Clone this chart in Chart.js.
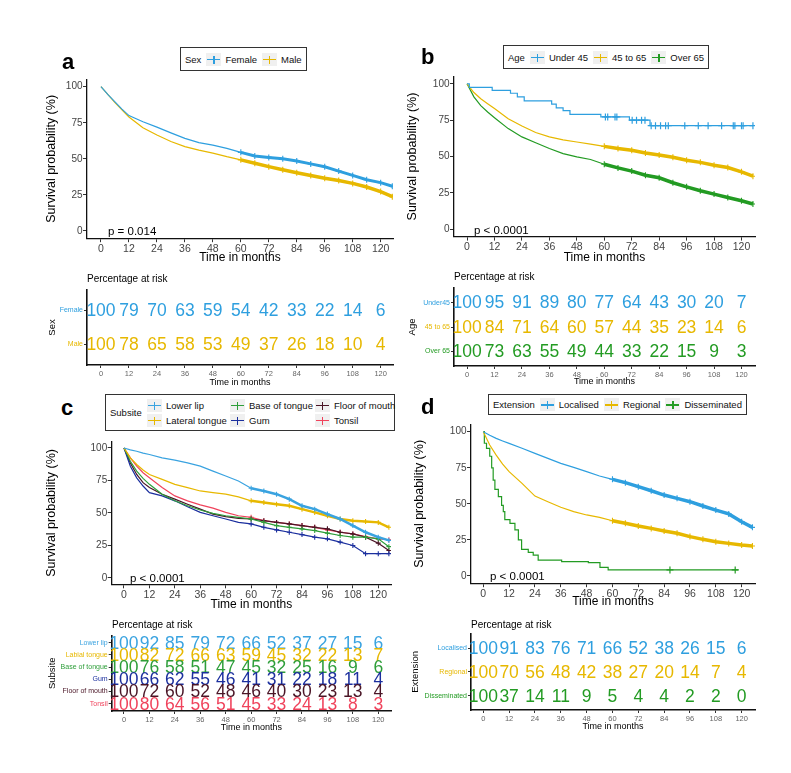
<!DOCTYPE html>
<html><head><meta charset="utf-8">
<script src="https://cdn.jsdelivr.net/npm/chart.js@4/dist/chart.umd.min.js"></script>
<style>
body{margin:0;background:#fff;width:791px;height:773px;position:relative;overflow:hidden;font-family:"Liberation Sans",Arial,sans-serif;}
canvas{position:absolute;}
.lbl{position:absolute;white-space:nowrap;color:#000;transform:translateY(-50%);line-height:1;}
.letter{font-weight:bold;font-size:22px;}
.pval{font-size:11.5px;}
.risktitle{font-size:10px;}
.legend{position:absolute;border:1.5px solid #333;background:#fff;display:flex;align-items:center;font-size:9.5px;padding:0 4px;box-sizing:border-box;white-space:nowrap;color:#111;}
.key{display:block;position:relative;width:15px;height:13px;background:#F0F0F0;margin:0 4px 0 5px;flex:none;}
.key i{position:absolute;display:block;}
.item{display:flex;align-items:center;}
</style></head><body>
<script>
// ---------- shared axes ----------
const xTicks = [0,12,24,36,48,60,72,84,96,108,120];
const yTicks = [0,25,50,75,100];
const grid = [0,3,6,9,12,18,24,30,36,42,48,54,60,66,72,78,84,90,96,102,108,114,120,125];

// ---------- panel a : Sex ----------
const sexNames = ['Female','Male'];
const sexColors = ['#2E9FDF','#E7B800'];
const femaleSurv = [100,94.5,89.5,84.5,80,75.7,72,68,64.2,61.2,59.5,57.3,54.5,52,51,50,48.5,46.5,44.5,41.5,38.5,35.5,33.5,31];
const maleSurv   = [100,94.5,89,84,79,71.5,66.5,62,58.5,56,54,51.5,49.3,47,44.6,42.5,40.4,38.5,36.5,35,33,30.5,27.3,23.8];
const femaleRisk = [100,79,70,63,59,54,42,33,22,14,6];
const maleRisk   = [100,78,65,58,53,49,37,26,18,10,4];

// ---------- panel b : Age ----------
const ageNames = ['Under 45','45 to 65','Over 65'];
const ageRiskLabels = ['Under45','45 to 65','Over 65'];
const ageColors = ['#2E9FDF','#E7B800','#239B23'];
const under45Times = [0,1,11,19,22,25,37,39,42,45,58.5,71,80,125];
const under45Surv  = [100,97.5,95.5,93.5,91,88.2,86,83.5,81.5,79,77.2,75,71.2,71.2];
const under45CensorTimes = [60.5,61.5,64.7,65.5,72.2,74.1,76.3,77.8,80.5,82.4,84.6,86.8,88,95.2,101.1,105.4,111.3,116.4,117.1,120,120.7,125];
const under45CensorSurv  = [77.2,77.2,77.2,77.2,75,75,75,75,71.2,71.2,71.2,71.2,71.2,71.2,71.2,71.2,71.2,71.2,71.2,71.2,71.2,71.2];
const mid4565Surv = [100,94,89.7,86.3,83,76,71,66.5,63.5,61.5,60,58.5,57,55.5,54.3,52.5,51,49.5,47.5,46,44,42.5,39.5,36.5];
const over65Surv  = [100,91,85,80.6,76.7,69.2,63.5,59.5,55.5,52,49.8,48,44.7,42.2,40,37.2,35.4,32,29.2,26.5,24.2,21.9,19.6,17.4];
const under45Risk = [100,95,91,89,80,77,64,43,30,20,7];
const mid4565Risk = [100,84,71,64,60,57,44,35,23,14,6];
const over65Risk  = [100,73,63,55,49,44,33,22,15,9,3];

// ---------- panel c : Subsite ----------
const siteNames = ['Lower lip','Lateral tongue','Base of tongue','Gum','Floor of mouth','Tonsil'];
const siteRiskLabels = ['Lower lip','Labial tongue','Base of tongue','Gum','Floor of mouth','Tonsil'];
const siteColors = ['#3AA3E0','#E7B800','#2E9E3A','#1B2F9E','#4A1526','#F0435C'];
const lowerLipSurv  = [100,98.5,97.5,96,95,92.4,90.6,88.5,86,82.2,78.4,74.6,69,66.9,64.4,60.6,55.5,52.9,49.1,45.3,40.2,35.1,31.3,28.8];
const latTongueSurv = [100,92.4,87.3,83,79.6,75.8,72,69.5,66.9,65.6,64.4,62.3,59.3,58,56.7,55.5,52.9,50.4,47.8,45.3,44,43.3,42.7,38.9];
const baseTongueSurv= [100,89.8,82.2,76.6,72,64.4,59.3,55.5,52.2,49.6,47.8,46.6,45.3,42.7,40.2,38.9,37.7,36.4,34.4,32.6,31.3,31.3,30,24];
const gumSurv       = [100,86,77,70.7,65.6,63.1,59.3,54.7,50.4,47.8,45.3,42.7,41.5,38.9,36.9,35.1,33.3,31.3,30,27.5,24.9,18.6,18.6,18.6];
const floorSurv     = [100,88.5,79.6,73.3,69.5,64.4,60.6,56.7,52.9,49.1,47.1,45.8,45.3,44,42.7,41.5,40.2,38.9,37.7,35.1,33.8,31.3,26.7,21];
const tonsilSurv    = [100,92.4,86,80.9,77.1,69.5,63.1,59.3,56.2,53.7,50.4,47.8,46.6,44,42.7,41.5,40.2,38.9,36.9,35.1,33.8,31.8,30,29.3];
const lowerLipRisk  = [100,92,85,79,72,66,52,37,27,15,6];
const latTongueRisk = [100,82,72,66,63,59,45,32,22,13,7];
const baseTongueRisk= [100,76,58,51,47,45,32,25,16,9,6];
const gumRisk       = [100,66,62,55,46,41,31,22,18,11,4];
const floorRisk     = [100,72,60,52,48,46,40,30,23,13,4];
const tonsilRisk    = [100,80,64,56,51,45,33,24,13,8,3];

// ---------- panel d : Extension ----------
const extNames = ['Localised','Regional','Disseminated'];
const extColors = ['#2E9FDF','#E7B800','#239B23'];
const localSurv    = [100,97.5,95.4,93.6,91.9,88.5,85,81.5,78.1,75.3,72.3,69.3,67,64.7,61.9,59.1,56.1,53.8,51.5,48.5,45.7,43,37.6,33.7];
const regionalSurv = [100,90.8,83.8,77.6,72.3,64.2,55.4,51.5,47.6,44.6,42.3,40.6,38.3,36.5,34.6,33,31.2,29.6,27.3,25.4,23.8,22.6,21.5,20.8];
const dissTimes = [0,0.5,1.5,3,3.9,4.6,5.4,7,8.5,9.3,10,12.4,14.7,16.3,17.8,20.9,23.2,25.5,36.4,48.8,54.2,58,118.5];
const dissSurv  = [100,92,88.5,83,75,66.5,60,55,49,44.6,39,36.5,32,25,18.5,16.4,14.5,11,10,9.2,6,4.2,4.2];
const dissCensorTimes = [86.7,117];
const dissCensorSurv  = [4.2,4.2];
const localRisk    = [100,91,83,76,71,66,52,38,26,15,6];
const regionalRisk = [100,70,56,48,42,38,27,20,14,7,4];
const dissRisk     = [100,37,14,11,9,5,4,4,2,2,0];

// ---------- helpers ----------
Chart.defaults.font.family = '"Liberation Sans", Arial, sans-serif';
Chart.defaults.animation = false;

function canvasAt(l,t,w,h){
  const c=document.createElement('canvas');
  c.width=w;c.height=h;c.style.left=l+'px';c.style.top=t+'px';c.style.width=w+'px';c.style.height=h+'px';
  document.body.appendChild(c);return c;
}
function text(str,left,cy,cls,style){
  const d=document.createElement('div');d.className='lbl '+(cls||'');d.textContent=str;
  d.style.left=left+'px';d.style.top=cy+'px';if(style)Object.assign(d.style,style);
  document.body.appendChild(d);return d;
}
function keyEl(color){
  const k=document.createElement('span');k.className='key';
  const h=document.createElement('i');Object.assign(h.style,{left:'1px',width:'13px',top:'6px',height:'1.5px',backgroundColor:color});
  const v=document.createElement('i');Object.assign(v.style,{left:'6.8px',width:'1.5px',top:'3px',height:'8px',backgroundColor:color});
  k.appendChild(h);k.appendChild(v);return k;
}
function legend(left,top,height,title,names,colors,width){
  const box=document.createElement('div');box.className='legend';
  box.style.left=left+'px';box.style.top=top+'px';box.style.height=height+'px';
  if(width)box.style.width=width+'px';
  const t=document.createElement('span');t.textContent=title;box.appendChild(t);
  names.forEach((n,i)=>{const it=document.createElement('span');it.className='item';it.appendChild(keyEl(colors[i]));
    const s=document.createElement('span');s.textContent=n;it.appendChild(s);box.appendChild(it);});
  document.body.appendChild(box);return box;
}
function legendGrid(left,top,height,width,title,names,colors,colW){
  const box=document.createElement('div');box.className='legend';
  box.style.left=left+'px';box.style.top=top+'px';box.style.height=height+'px';box.style.width=width+'px';
  const t=document.createElement('span');t.textContent=title;t.style.width='32px';t.style.flex='none';box.appendChild(t);
  const g=document.createElement('div');g.style.display='grid';g.style.gridTemplateRows='14px 14px';
  g.style.gridAutoFlow='column';g.style.gridTemplateColumns=colW.map(w=>w+'px').join(' ');g.style.rowGap='1px';
  names.forEach((n,i)=>{const it=document.createElement('span');it.className='item';it.appendChild(keyEl(colors[i]));
    const s=document.createElement('span');s.textContent=n;it.appendChild(s);g.appendChild(it);});
  box.appendChild(g);document.body.appendChild(box);return box;
}

function xAxis(p,risk){
  return {type:'linear',min:p.xmin,max:p.xmax,
    afterBuildTicks:s=>{s.ticks=xTicks.map(v=>({value:v}));},
    afterFit:s=>{s.height=p.xh;},
    grid:{drawOnChartArea:false,drawTicks:true,tickLength:risk?3:4,color:'#333',lineWidth:1},
    border:{display:true,color:'#111',width:risk?1.6:1.3},
    ticks:{font:{size:risk?7.5:10.5},color:risk?'#666':'#444',padding:risk?1:0.5,maxRotation:0,autoSkip:false},
    title:{display:true,text:'Time in months',font:{size:risk?9:12},color:'#000',padding:{top:0,bottom:p.xtpb}}};
}

function mainChart(p){
  const cv=canvasAt(p.l,p.t,p.w,p.h);
  const datasets=[];
  p.series.forEach(s=>{
    datasets.push({type:'line',label:s.name,data:s.times.map((t,j)=>({x:t,y:s.vals[j]})),
      borderColor:s.color,backgroundColor:s.color,borderWidth:1.2,stepped:!!s.stepped,tension:0,fill:false,
      pointStyle:'cross',pointBorderWidth:1.1,pointBorderColor:s.color,
      pointRadius:ctx=>(s.mark&&ctx.raw&&ctx.raw.x>=60)?s.mark:0,pointHoverRadius:0,
      segment:{borderWidth:ctx=>(s.band&&ctx.p0.parsed.x>=58)?s.band:1.2}});
    if(s.censorT){
      datasets.push({type:'scatter',label:s.name+' censored',data:s.censorT.map((t,j)=>({x:t,y:s.censorS[j]})),
        showLine:false,pointStyle:'cross',pointRadius:3.5,pointBorderWidth:1.2,borderColor:s.color,backgroundColor:s.color});
    }
  });
  new Chart(cv,{data:{datasets},options:{responsive:false,animation:false,
    layout:{padding:{left:0,top:p.pt,right:p.pr,bottom:0}},
    plugins:{legend:{display:false},tooltip:{enabled:false}},
    scales:{x:xAxis(p,false),
      y:{type:'linear',min:-5,max:105,afterBuildTicks:s=>{s.ticks=yTicks.map(v=>({value:v}));},afterFit:s=>{s.width=p.yw;},
        grid:{drawOnChartArea:false,drawTicks:true,tickLength:4,color:'#333',lineWidth:1},
        border:{display:true,color:'#111',width:1.3},
        ticks:{font:{size:10},color:'#444',padding:0.5},
        title:{display:true,text:'Survival probability (%)',font:{size:12.5},color:'#000',padding:{top:p.ytpt,bottom:0}}}}}});
}

const riskTextPlugin={id:'riskText',afterDatasetsDraw(chart){
  const ctx=chart.ctx;ctx.save();
  ctx.font='17.5px "Liberation Sans", Arial, sans-serif';ctx.textAlign='center';ctx.textBaseline='middle';
  chart.data.datasets.forEach((ds,i)=>{const meta=chart.getDatasetMeta(i);ctx.fillStyle=ds.borderColor;
    meta.data.forEach((el,j)=>{ctx.fillText(String(ds.data[j].v),el.x,el.y+1);});});
  ctx.restore();}};

function riskChart(p){
  const cv=canvasAt(p.l,p.t,p.w,p.h);
  const n=p.series.length;
  const datasets=p.series.map((s,i)=>({type:'scatter',label:s.name,
    data:xTicks.map((t,j)=>({x:t,y:n-i,v:s.vals[j]})),pointRadius:0,borderColor:s.color,backgroundColor:s.color}));
  const rows=p.series.map((s,i)=>n-i).sort((a,b)=>a-b);
  new Chart(cv,{data:{datasets},plugins:[riskTextPlugin],options:{responsive:false,animation:false,
    layout:{padding:{left:0,top:p.pt,right:p.pr,bottom:0}},
    plugins:{legend:{display:false},tooltip:{enabled:false}},
    scales:{x:xAxis(p,true),
      y:{type:'linear',min:0.4,max:n+0.6,afterBuildTicks:s=>{s.ticks=rows.map(v=>({value:v}));},afterFit:s=>{s.width=p.yw;},
        grid:{drawOnChartArea:false,drawTicks:true,tickLength:3,color:'#333',lineWidth:1},
        border:{display:true,color:'#111',width:1.6},
        ticks:{font:{size:7},padding:1,callback:v=>p.series[n-v].label,color:ctx=>p.series[n-ctx.tick.value].color},
        title:{display:true,text:p.ytitle,font:{size:9.5},color:'#000',padding:{top:p.ytpt,bottom:0}}}}}});
}

// ---------- panel a ----------
mainChart({l:0,t:72,w:400,h:196,pt:7.5,pr:7,yw:87,xh:29.8,xmin:-6,xmax:125.3,ytpt:44.5,xtpb:2.8,
  series:[{name:sexNames[0],color:sexColors[0],times:grid,vals:femaleSurv,band:3,mark:3},
          {name:sexNames[1],color:sexColors[1],times:grid,vals:maleSurv,band:3.5,mark:3}]});
riskChart({l:0,t:270,w:400,h:119,pt:20,pr:7,yw:87,xh:24,xmin:-6,xmax:125.3,ytpt:46.6,xtpb:0.6,ytitle:'Sex',
  series:[{label:sexNames[0],color:sexColors[0],vals:femaleRisk},{label:sexNames[1],color:sexColors[1],vals:maleRisk}]});
text('a',62,62,'letter');
text('p = 0.014',108,232,'pval');
text('Percentage at risk',87,279,'risktitle');
legend(180,47,24,'Sex',sexNames,sexColors);

// ---------- panel b ----------
mainChart({l:395,t:70,w:396,h:198,pt:6,pr:36,yw:59,xh:31.4,xmin:-5.7,xmax:125.9,ytpt:10.5,xtpb:2.8,
  series:[{name:ageNames[0],color:ageColors[0],times:under45Times,vals:under45Surv,stepped:true,censorT:under45CensorTimes,censorS:under45CensorSurv},
          {name:ageNames[1],color:ageColors[1],times:grid,vals:mid4565Surv,band:3.5,mark:3},
          {name:ageNames[2],color:ageColors[2],times:grid,vals:over65Surv,band:3.5,mark:3}]});
riskChart({l:395,t:270,w:396,h:119,pt:18,pr:36,yw:59,xh:23,xmin:-5.7,xmax:125.9,ytpt:11.3,xtpb:1.9,ytitle:'Age',
  series:[{label:ageRiskLabels[0],color:ageColors[0],vals:under45Risk},{label:ageRiskLabels[1],color:ageColors[1],vals:mid4565Risk},{label:ageRiskLabels[2],color:ageColors[2],vals:over65Risk}]});
text('b',421,57,'letter');
text('p < 0.0001',474,231,'pval');
text('Percentage at risk',454,277,'risktitle');
legend(503,45,24,'Age',ageNames,ageColors);

// ---------- panel c ----------
mainChart({l:0,t:435,w:400,h:180,pt:5.2,pr:9,yw:111.7,xh:30.7,xmin:-5.8,xmax:126,ytpt:44.5,xtpb:2.8,
  series:[{name:siteNames[0],color:siteColors[0],times:grid,vals:lowerLipSurv,band:2.5,mark:2.5},
          {name:siteNames[1],color:siteColors[1],times:grid,vals:latTongueSurv,band:2.5,mark:2.5},
          {name:siteNames[2],color:siteColors[2],times:grid,vals:baseTongueSurv,mark:2.5},
          {name:siteNames[3],color:siteColors[3],times:grid,vals:gumSurv,mark:2.5},
          {name:siteNames[4],color:siteColors[4],times:grid,vals:floorSurv,mark:2.5},
          {name:siteNames[5],color:siteColors[5],times:grid,vals:tonsilSurv,mark:2.5}]});
riskChart({l:0,t:620,w:400,h:114,pt:15.4,pr:9,yw:111.7,xh:23,xmin:-5.8,xmax:126,ytpt:46.6,xtpb:0.6,ytitle:'Subsite',
  series:[{label:siteRiskLabels[0],color:siteColors[0],vals:lowerLipRisk},{label:siteRiskLabels[1],color:siteColors[1],vals:latTongueRisk},
          {label:siteRiskLabels[2],color:siteColors[2],vals:baseTongueRisk},{label:siteRiskLabels[3],color:siteColors[3],vals:gumRisk},
          {label:siteRiskLabels[4],color:siteColors[4],vals:floorRisk},{label:siteRiskLabels[5],color:siteColors[5],vals:tonsilRisk}]});
text('c',61,408,'letter');
text('p < 0.0001',130,579,'pval');
text('Percentage at risk',112,625,'risktitle');
legendGrid(105,394,37,290,'Subsite',siteNames,siteColors,[83,85,100]);

// ---------- panel d ----------
mainChart({l:395,t:418,w:396,h:195,pt:6.5,pr:36,yw:76,xh:29.8,xmin:-5.7,xmax:126.2,ytpt:17.5,xtpb:4.1,
  series:[{name:extNames[0],color:extColors[0],times:grid,vals:localSurv,band:3.5,mark:3},
          {name:extNames[1],color:extColors[1],times:grid,vals:regionalSurv,band:3.5,mark:3},
          {name:extNames[2],color:extColors[2],times:dissTimes,vals:dissSurv,stepped:true,censorT:dissCensorTimes,censorS:dissCensorSurv}]});
riskChart({l:395,t:620,w:396,h:113,pt:13.8,pr:36,yw:76,xh:23,xmin:-5.7,xmax:126.2,ytpt:14.6,xtpb:0.9,ytitle:'Extension',
  series:[{label:extNames[0],color:extColors[0],vals:localRisk},{label:extNames[1],color:extColors[1],vals:regionalRisk},{label:extNames[2],color:extColors[2],vals:dissRisk}]});
text('d',421,407,'letter');
text('p < 0.0001',490,577,'pval');
text('Percentage at risk',471,625,'risktitle');
legend(488,394,21,'Extension',extNames,extColors);
</script>
</body></html>
